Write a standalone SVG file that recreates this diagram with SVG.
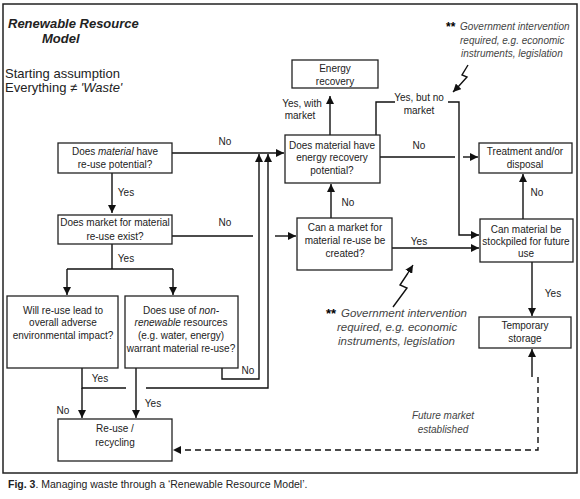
<svg xmlns="http://www.w3.org/2000/svg" width="580" height="499" viewBox="0 0 580 499">
<defs>
<marker id="ah" viewBox="0 0 10 10" refX="10" refY="5" markerWidth="8" markerHeight="8" markerUnits="userSpaceOnUse" orient="auto">
<path d="M0,0 L10,5 L0,10 z" fill="#111"/>
</marker>
<style>
text{font-family:"Liberation Sans",Arial,sans-serif;fill:#222}
.t{font-size:10px;text-anchor:middle}
.l{font-size:10px;text-anchor:middle}
.box{fill:#fff;stroke:#222;stroke-width:1.3}
.c{fill:none;stroke:#111;stroke-width:1.4}
.a{marker-end:url(#ah)}
.d{stroke-dasharray:6,4}
.note{font-style:italic;fill:#444}
.star{font-weight:bold;fill:#000}
</style>
</defs>
<rect x="3" y="4" width="574" height="469" fill="#fff" stroke="#222" stroke-width="1.5"/>

<g id="title">
<text x="8" y="28" font-size="13" font-weight="bold" font-style="italic">Renewable Resource</text>
<text x="42" y="43" font-size="13" font-weight="bold" font-style="italic">Model</text>
<text x="5" y="78" font-size="13">Starting assumption</text>
<text x="5" y="92" font-size="13">Everything ≠ <tspan font-style="italic">'Waste'</tspan></text>
</g>

<g id="connectors">
<path class="c a" d="M172,153 H284"/>
<path class="c a" d="M112,173 V213"/>
<path class="c" d="M172,236 H253"/>
<path class="c a" d="M275,236 H296"/>
<path class="c" d="M112,244 V269 M67,269 H173"/>
<path class="c a" d="M67,269 V295"/>
<path class="c a" d="M173,269 V295"/>
<path class="c" d="M82,368 V388 H126"/>
<path class="c a" d="M146,388 H268 V154"/>
<path class="c a" d="M82,388 V418"/>
<path class="c a" d="M136,368 V418"/>
<path class="c a" d="M222,368 V379 H259 V154"/>
<path class="c a" d="M331,218 V184"/>
<path class="c a" d="M330,135 V96"/>
<path class="c" d="M380,157 H455"/>
<path class="c a" d="M463,157 H478"/>
<path class="c" d="M376,135 V102 H395"/>
<path class="c a" d="M448,102 H459 V235 H479"/>
<path class="c a" d="M392,248 H479"/>
<path class="c a" d="M523,219 V174"/>
<path class="c a" d="M532,262 V316"/>
<path class="c a" d="M532,377 V349"/>
<path class="c d a" d="M538,377 V450 H173"/>
<path class="c" d="M393,307 L407,288 L400,285 L408,273"/>
<path class="c a" d="M408,273 L413,265"/>
<path class="c" d="M468,65 L462,75 L467,77 L458,87"/>
<path class="c a" d="M458,87 L453,92"/>
<text class="l" x="225" y="145">No</text>
<text class="l" x="126" y="196">Yes</text>
<text class="l" x="225" y="226">No</text>
<text class="l" x="126" y="262">Yes</text>
<text class="l" x="100" y="382">Yes</text>
<text class="l" x="63" y="414">No</text>
<text class="l" x="153" y="407">Yes</text>
<text class="l" x="248" y="374">No</text>
<text class="l" x="348" y="206">No</text>
<text class="l" x="302" y="107">Yes, with</text>
<text class="l" x="300" y="119">market</text>
<text class="l" x="419" y="101">Yes, but no</text>
<text class="l" x="419" y="114">market</text>
<text class="l" x="419" y="149">No</text>
<text class="l" x="419" y="245">Yes</text>
<text class="l" x="537" y="196">No</text>
<text class="l" x="553" y="297">Yes</text>
<text class="l note" x="443" y="419">Future market</text>
<text class="l note" x="443" y="433">established</text>
</g>

<g id="note-top">
<text class="star" x="446" y="31" font-size="12">**</text>
<text class="note" x="460" y="30" font-size="10">Government intervention</text>
<text class="note" x="460" y="44" font-size="10">required, e.g. economic</text>
<text class="note" x="461" y="57" font-size="10">instruments, legislation</text>
</g>

<g id="note-bottom">
<text class="star" x="326" y="318" font-size="13">**</text>
<text class="note" x="341" y="317" font-size="11.5">Government intervention</text>
<text class="note" x="337" y="331" font-size="11.5">required, e.g. economic</text>
<text class="note" x="338" y="345" font-size="11.5">instruments, legislation</text>
</g>

<g id="n-reuse-potential">
<rect class="box" x="58" y="143" width="114" height="30"/>
<text class="t" x="115" y="155">Does <tspan font-style="italic">material</tspan>  have</text>
<text class="t" x="115" y="168">re-use potential?</text>
</g>
<g id="n-market-exist">
<rect class="box" x="58" y="215" width="114" height="29"/>
<text class="t" x="115" y="226">Does market for material</text>
<text class="t" x="115" y="240">re-use exist?</text>
</g>
<g id="n-adverse">
<rect class="box" x="7" y="296" width="111" height="72"/>
<text class="t" x="63" y="314">Will re-use lead to</text>
<text class="t" x="63" y="326">overall  adverse</text>
<text class="t" x="63" y="339">environmental impact?</text>
</g>
<g id="n-nonrenewable">
<rect class="box" x="125" y="296" width="113" height="72"/>
<text class="t" x="181" y="314">Does use of <tspan font-style="italic">non-</tspan></text>
<text class="t" x="181" y="326"><tspan font-style="italic">renewable</tspan> resources</text>
<text class="t" x="181" y="339">(e.g. water, energy)</text>
<text class="t" x="181" y="352">warrant material re-use?</text>
</g>
<g id="n-reuse-recycling">
<rect class="box" x="58" y="419" width="114" height="42"/>
<text class="t" x="115" y="432">Re-use /</text>
<text class="t" x="115" y="446">recycling</text>
</g>
<g id="n-energy-recovery">
<rect class="box" x="292" y="60" width="86" height="28"/>
<text class="t" x="335" y="72">Energy</text>
<text class="t" x="335" y="85">recovery</text>
</g>
<g id="n-energy-potential">
<rect class="box" x="285" y="135" width="95" height="48"/>
<text class="t" x="332" y="149">Does material have</text>
<text class="t" x="332" y="161">energy recovery</text>
<text class="t" x="332" y="174">potential?</text>
</g>
<g id="n-market-created">
<rect class="box" x="297" y="218" width="95" height="52"/>
<text class="t" x="345" y="231">Can a market for</text>
<text class="t" x="345" y="244">material re-use be</text>
<text class="t" x="345" y="257">created?</text>
</g>
<g id="n-treatment">
<rect class="box" x="479" y="143" width="93" height="30"/>
<text class="t" x="525" y="155">Treatment and/or</text>
<text class="t" x="525" y="168">disposal</text>
</g>
<g id="n-stockpile">
<rect class="box" x="480" y="219" width="93" height="43"/>
<text class="t" x="526" y="233">Can material be</text>
<text class="t" x="526" y="245">stockpiled for future</text>
<text class="t" x="526" y="257">use</text>
</g>
<g id="n-temporary">
<rect class="box" x="479" y="317" width="92" height="31"/>
<text class="t" x="525" y="329">Temporary</text>
<text class="t" x="525" y="342">storage</text>
</g>

<g id="caption">
<text x="8" y="488" font-size="10.5"><tspan font-weight="bold">Fig. 3</tspan>. Managing waste through a ‘Renewable Resource Model’.</text>
</g>
</svg>
